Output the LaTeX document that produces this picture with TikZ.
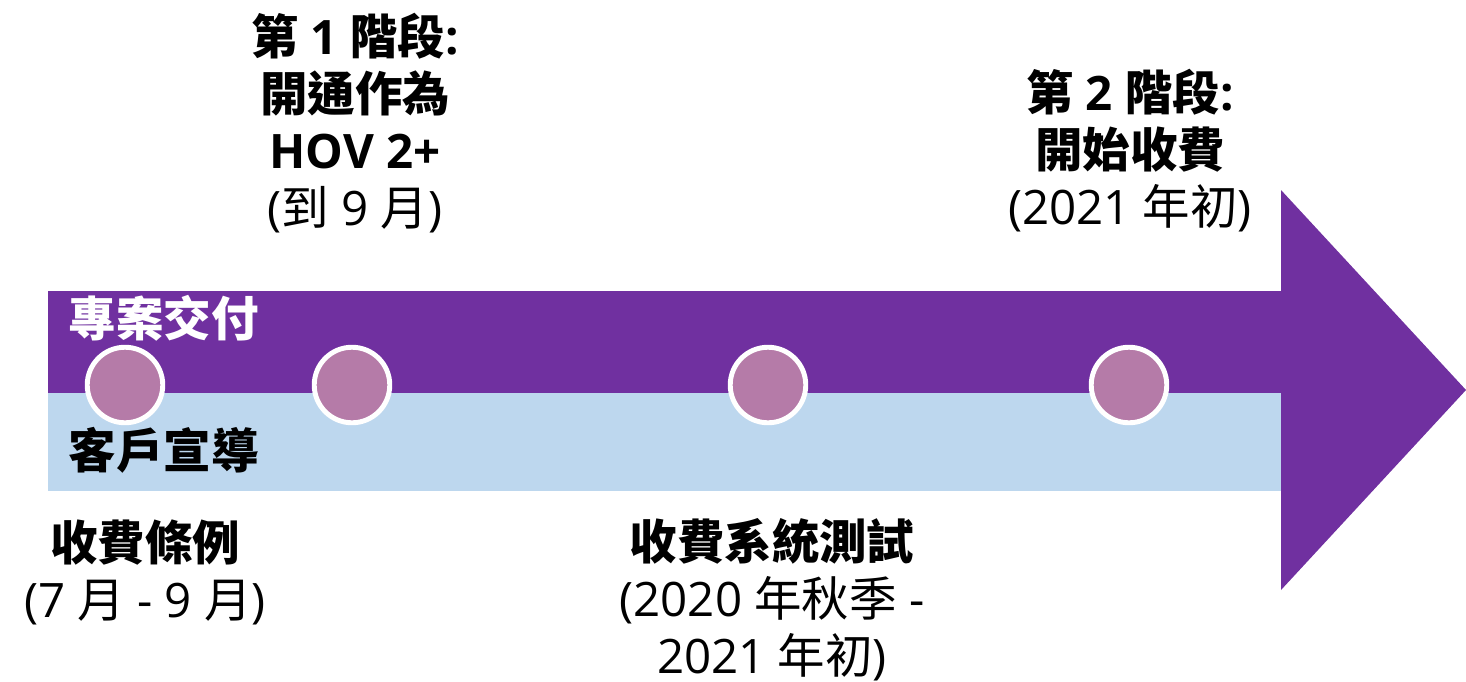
\documentclass[tikz,border=0pt]{standalone}
\usepackage{fontspec}
\setmainfont{Noto Sans CJK TC}
\newfontfamily\latinfont{Open Sans}
\newcommand\la[1]{{\latinfont #1}}
\usetikzlibrary{positioning}
\definecolor{bandpurple}{HTML}{7030A0}
\definecolor{bandblue}{HTML}{BDD7EE}
\definecolor{dotpink}{HTML}{B57BA8}

\begin{document}
\begin{tikzpicture}[x=0.01cm,y=-0.01cm,
  milestone/.style={circle,fill=dotpink,draw=white,line width=1.4pt,minimum size=0.755cm,inner sep=0pt},
  lbl/.style={font=\fontsize{13.5}{16.2}\selectfont,align=center,inner sep=0pt}]
\useasboundingbox (0,0) rectangle (1466,681);
% bands and arrow head
\fill[bandpurple] (48,291) rectangle (1282,393);
\fill[bandblue] (48,393) rectangle (1282,491);
\fill[bandpurple] (1281,190) -- (1466,390) -- (1281,590) -- cycle;
\node[lbl,anchor=west,text=white] (delivery) at (68,318) {\textbf{專案交付}};
\node[lbl,anchor=west] (outreach) at (68,450) {\textbf{客戶宣導}};
% milestones
\node[milestone] (m1) at (125,385) {};
\node[milestone] (m2) at (352,385) {};
\node[milestone] (m3) at (768,385) {};
\node[milestone] (m4) at (1129,385) {};
\node[lbl] (phase1) at (355,123) {\textbf{第\la{ 1 }階段\la{:}}\\\textbf{開通作為}\\\textbf{\la{HOV 2+}}\\\la{(}到\la{ 9 }月\la{)}};
\node[lbl] (phase2) at (1130,151) {\textbf{第\la{ 2 }階段\la{:}}\\\textbf{開始收費}\\\la{(2021 }年初\la{)}};
\node[lbl] (rules) at (145,572) {\textbf{收費條例}\\\la{(7 }月\la{ - 9 }月\la{)}};
\node[lbl] (testing) at (772,600) {\textbf{收費系統測試}\\\la{(2020 }年秋季\la{ -}\\\la{2021 }年初\la{)}};
\end{tikzpicture}
\end{document}
